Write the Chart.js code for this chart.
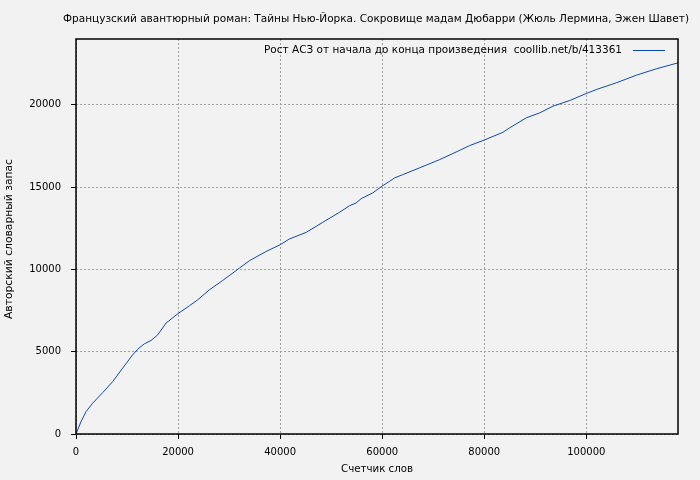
<!DOCTYPE html>
<html lang="ru">
<head>
<meta charset="utf-8">
<title>Рост АСЗ</title>
<script src="https://cdn.jsdelivr.net/npm/chart.js@4.4.1/dist/chart.umd.min.js"></script>
<style>
  html, body { margin: 0; padding: 0; background: #f2f2f2; }
  #wrap { width: 700px; height: 480px; position: relative; }
  canvas { display: block; }
</style>
</head>
<body>
<div id="wrap"><canvas id="c" width="700" height="480"></canvas></div>
<script>
// Word counter (x) vs. author's vocabulary size (y)
const wordCount = [0, 980, 1960, 3260, 5220, 7180, 9140, 11100, 12080, 13390, 14700, 16000, 17650, 19920, 22220, 23840, 26140, 28750, 32020, 33980, 37250, 40000, 41820, 45100, 48350, 51630, 53590, 54900, 55880, 58160, 59920, 61430, 62410, 64040, 67310, 71240, 74820, 77100, 79900, 83650, 84960, 88240, 90840, 93460, 96730, 100000, 101960, 105880, 109800, 113730, 117960];
const vocabulary = [0, 750, 1360, 1870, 2510, 3180, 4000, 4810, 5150, 5480, 5680, 6020, 6740, 7300, 7790, 8150, 8760, 9330, 10080, 10530, 11090, 11500, 11850, 12250, 12860, 13470, 13870, 14040, 14300, 14650, 15050, 15350, 15560, 15760, 16170, 16670, 17180, 17520, 17850, 18330, 18600, 19210, 19510, 19920, 20260, 20690, 20930, 21340, 21800, 22190, 22550];
const xTicks = [0, 20000, 40000, 60000, 80000, 100000];
const yTicks = [0, 5000, 10000, 15000, 20000];

const titleText = 'Французский авантюрный роман: Тайны Нью-Йорка. Сокровище мадам Дюбарри (Жюль Лермина, Эжен Шавет)';
const seriesLabel = 'Рост АСЗ от начала до конца произведения  coollib.net/b/413361';
const xTitle = 'Счетчик слов';
const yTitle = 'Авторский словарный запас';

const FAMILY = '"DejaVu Sans", sans-serif';
const FONT = '10px ' + FAMILY;
const LINE_COLOR = '#0b4ab4';

// draws text stretched horizontally to a given width
function drawFitted(ctx, text, x, y, width, align) {
  const w = ctx.measureText(text).width;
  const k = width / w;
  ctx.save();
  ctx.translate(x, y);
  ctx.scale(k, 1);
  ctx.textAlign = align;
  ctx.fillText(text, 0, 0);
  ctx.restore();
}

// frame, title, axis titles and key drawn around the plot area
const decorations = {
  id: 'decorations',
  beforeDraw(chart) {
    const ctx = chart.ctx;
    ctx.save();
    ctx.fillStyle = '#f2f2f2';
    ctx.fillRect(0, 0, chart.width, chart.height);
    ctx.restore();
  },
  afterDraw(chart) {
    const { ctx, chartArea: a } = chart;
    ctx.save();
    // frame
    ctx.strokeStyle = '#000';
    ctx.lineWidth = 1.5;
    ctx.strokeRect(a.left, a.top, a.right - a.left, a.bottom - a.top);

    ctx.fillStyle = '#000';
    ctx.font = FONT;
    ctx.textBaseline = 'middle';
    const cx = (a.left + a.right) / 2;
    drawFitted(ctx, titleText, cx - 1, 19, 626, 'center');
    drawFitted(ctx, xTitle, cx, 469, 72, 'center');

    ctx.save();
    ctx.translate(9, 239);
    ctx.rotate(-Math.PI / 2);
    drawFitted(ctx, yTitle, 0, 0, 160, 'center');
    ctx.restore();

    // key
    const keyY = 50;
    drawFitted(ctx, seriesLabel, 622, keyY, 358, 'right');
    ctx.strokeStyle = LINE_COLOR;
    ctx.lineWidth = 1;
    ctx.beginPath();
    ctx.moveTo(633, keyY + 0.5);
    ctx.lineTo(665, keyY + 0.5);
    ctx.stroke();
    ctx.restore();
  }
};

const gridStyle = {
  color: '#a0a0a0',
  lineWidth: 1,
  tickLength: 5,
  tickColor: '#000',
  tickWidth: 1
};

new Chart(document.getElementById('c'), {
  type: 'line',
  data: {
    datasets: [{
      label: seriesLabel,
      data: wordCount.map((x, i) => ({ x, y: vocabulary[i] })),
      borderColor: LINE_COLOR,
      borderWidth: 1,
      pointRadius: 0,
      tension: 0,
      fill: false
    }]
  },
  options: {
    responsive: false,
    animation: false,
    devicePixelRatio: 1,
    layout: { padding: { left: 0, top: 39, right: 22, bottom: 0 } },
    plugins: {
      legend: { display: false },
      title: { display: false },
      tooltip: { enabled: false }
    },
    scales: {
      x: {
        type: 'linear',
        min: 0,
        max: 117960,
        afterFit(s) { s.height = 46; },
        afterBuildTicks(s) { s.ticks = xTicks.map(v => ({ value: v })); },
        grid: gridStyle,
        border: { display: false, dash: [2, 2] },
        ticks: { color: '#000', font: { family: FAMILY, size: 10 }, padding: 7, maxRotation: 0, callback: v => String(v) }
      },
      y: {
        type: 'linear',
        min: 0,
        max: 24000,
        afterFit(s) { s.width = 76; },
        afterBuildTicks(s) { s.ticks = yTicks.map(v => ({ value: v })); },
        grid: gridStyle,
        border: { display: false, dash: [2, 2] },
        ticks: { color: '#000', font: { family: FAMILY, size: 10 }, padding: 10, callback: v => String(v) }
      }
    }
  },
  plugins: [decorations]
});
</script>
</body>
</html>
